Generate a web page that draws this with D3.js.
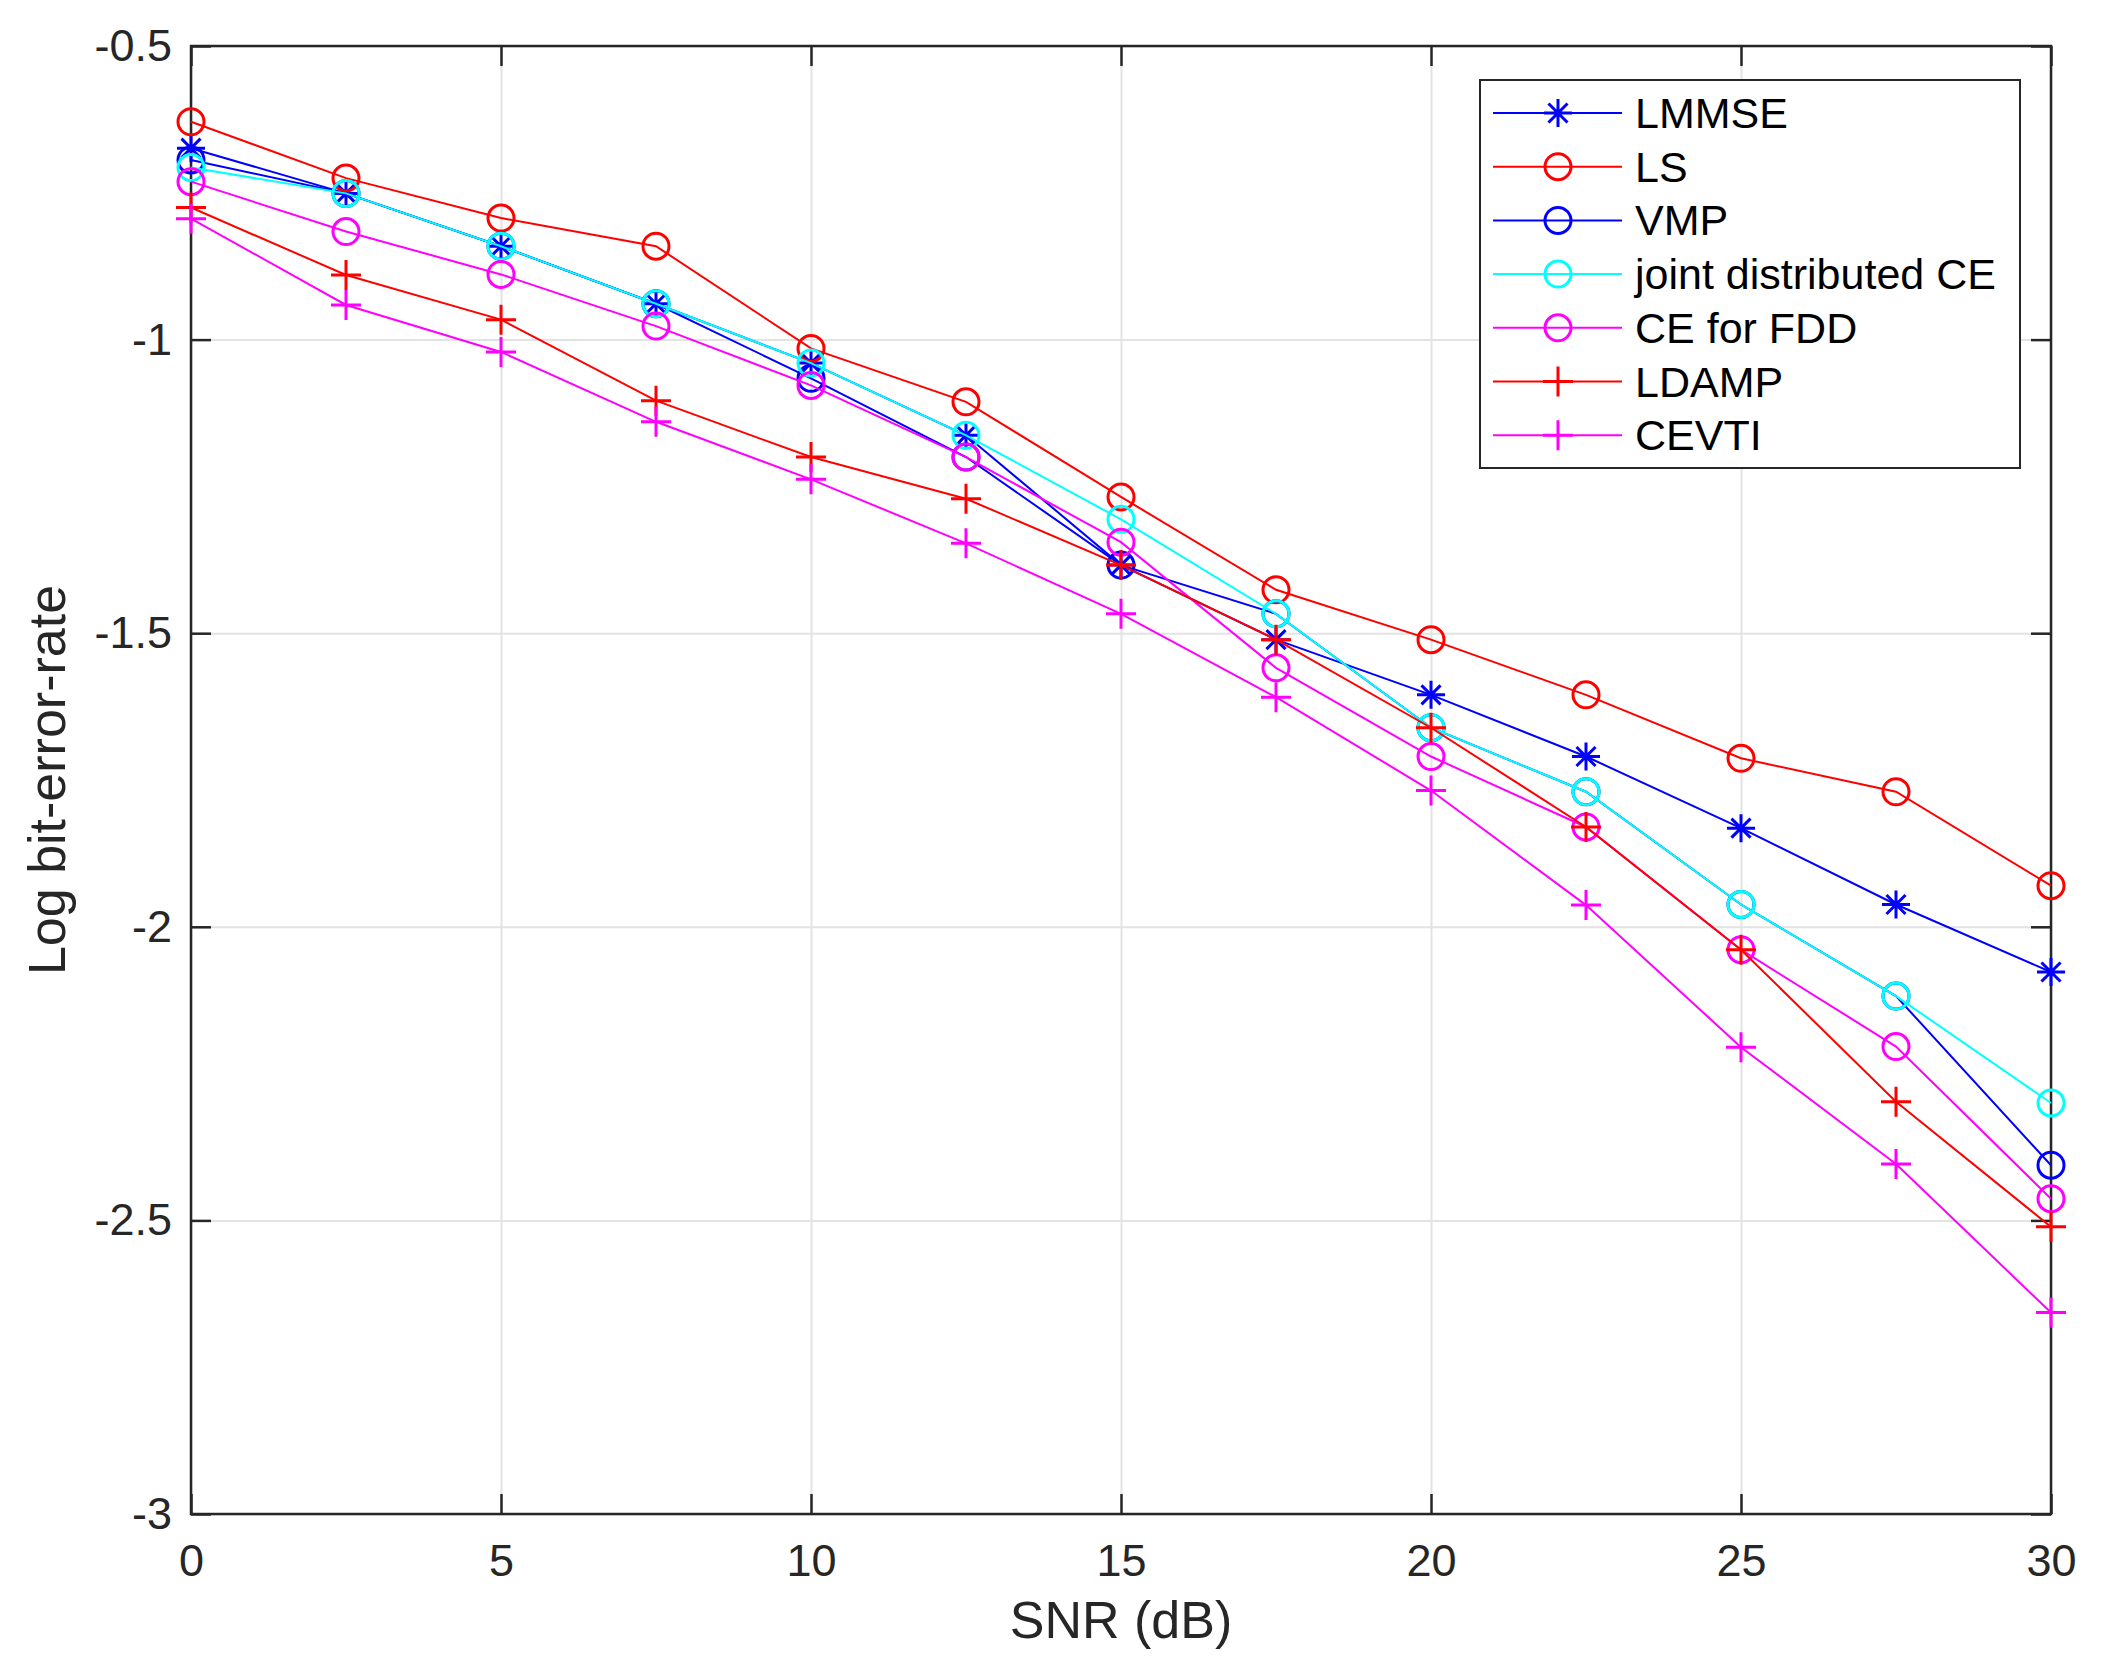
<!DOCTYPE html>
<html>
<head>
<meta charset="utf-8">
<script src="https://cdn.jsdelivr.net/npm/d3@7"></script>
<style>
  body { margin: 0; background: #fff; }
  svg { display: block; font-family: "Liberation Sans", Arial, Helvetica, sans-serif; }
</style>
</head>
<body>
<div id="chart"></div>
<script>
// SNR points (dB)
var snr = [0, 2.5, 5, 7.5, 10, 12.5, 15, 17.5, 20, 22.5, 25, 27.5, 30];

// log bit-error-rate per method
var lmmse  = [-0.674, -0.751, -0.841, -0.939, -1.040, -1.163, -1.384, -1.511, -1.605, -1.710, -1.832, -1.962, -2.077];
var ls     = [-0.629, -0.725, -0.793, -0.841, -1.015, -1.106, -1.268, -1.426, -1.511, -1.605, -1.713, -1.770, -1.930];
var vmp    = [-0.694, -0.751, -0.841, -0.939, -1.066, -1.200, -1.384, -1.467, -1.661, -1.770, -1.962, -2.118, -2.406];
var joint  = [-0.707, -0.751, -0.841, -0.939, -1.040, -1.163, -1.306, -1.467, -1.661, -1.770, -1.962, -2.118, -2.300];
var cefdd  = [-0.731, -0.816, -0.889, -0.977, -1.078, -1.200, -1.345, -1.559, -1.710, -1.830, -2.039, -2.204, -2.463];
var ldamp  = [-0.775, -0.890, -0.966, -1.104, -1.200, -1.271, -1.384, -1.511, -1.661, -1.830, -2.039, -2.298, -2.511];
var cevti  = [-0.794, -0.941, -1.021, -1.140, -1.238, -1.347, -1.467, -1.609, -1.768, -1.963, -2.205, -2.404, -2.657];

var seriesNames = ["LMMSE", "LS", "VMP", "joint distributed CE", "CE for FDD", "LDAMP", "CEVTI"];
var seriesValues = [lmmse, ls, vmp, joint, cefdd, ldamp, cevti];
var seriesColors = ["#0000ff", "#ff0000", "#0000ff", "#00ffff", "#ff00ff", "#ff0000", "#ff00ff"];
var seriesMarkers = ["star", "circle", "circle", "circle", "circle", "plus", "plus"];

var xTicks = [0, 5, 10, 15, 20, 25, 30];
var yTicks = [-3, -2.5, -2, -1.5, -1, -0.5];

var W = 2104, H = 1669;
var margin = {top: 46, right: 53, bottom: 155, left: 191},
    width = W - margin.left - margin.right,
    height = H - margin.top - margin.bottom;

var axisColor = "#262626";

var svg = d3.select("#chart").append("svg")
    .attr("width", W)
    .attr("height", H);

svg.append("rect").attr("width", W).attr("height", H).attr("fill", "#fff");

var g = svg.append("g")
    .attr("transform", "translate(" + margin.left + "," + margin.top + ")");

var x = d3.scaleLinear().domain([0, 30]).range([0, width]);
var y = d3.scaleLinear().domain([-3, -0.5]).range([height, 0]);

// grid
g.append("g")
    .attr("transform", "translate(0," + height + ")")
    .call(d3.axisBottom(x).tickValues(xTicks).tickSize(-height).tickFormat(""))
    .call(a => a.select(".domain").remove())
    .selectAll("line").attr("stroke", "#e3e3e3").attr("stroke-width", 2);
g.append("g")
    .call(d3.axisLeft(y).tickValues(yTicks).tickSize(-width).tickFormat(""))
    .call(a => a.select(".domain").remove())
    .selectAll("line").attr("stroke", "#e3e3e3").attr("stroke-width", 2);

// box and ticks on all four sides
function styleAxis(a) {
    a.select(".domain").remove();
    a.selectAll("line").attr("stroke", axisColor).attr("stroke-width", 2.5);
    a.selectAll("text").attr("fill", axisColor).style("font-size", "45px");
}
g.append("g")
    .attr("transform", "translate(0," + height + ")")
    .call(d3.axisBottom(x).tickValues(xTicks).tickSizeInner(-20).tickSizeOuter(0).tickPadding(30))
    .call(styleAxis);
g.append("g")
    .call(d3.axisTop(x).tickValues(xTicks).tickSizeInner(-20).tickSizeOuter(0).tickFormat(""))
    .call(styleAxis);
g.append("g")
    .call(d3.axisLeft(y).tickValues(yTicks).tickSizeInner(-20).tickSizeOuter(0).tickPadding(19)
        .tickFormat(function(d) { return String(d); }))
    .call(styleAxis);
g.append("g")
    .attr("transform", "translate(" + width + ",0)")
    .call(d3.axisRight(y).tickValues(yTicks).tickSizeInner(-20).tickSizeOuter(0).tickFormat(""))
    .call(styleAxis);
g.append("rect")
    .attr("width", width).attr("height", height)
    .attr("fill", "none").attr("stroke", axisColor).attr("stroke-width", 2.5);

// series lines and markers (on top of the box)
var line = d3.line()
    .x(function(d, i) { return x(snr[i]); })
    .y(function(d) { return y(d); });

function drawMarker(sel, type, color, r) {
    if (type === "circle") {
        sel.append("circle").attr("r", r).attr("fill", "none")
            .attr("stroke", color).attr("stroke-width", 3);
    } else if (type === "plus") {
        var p = r + 2;
        sel.append("path").attr("d", "M" + (-p) + ",0H" + p + "M0," + (-p) + "V" + p)
            .attr("stroke", color).attr("stroke-width", 3).attr("fill", "none");
    } else {
        var s = r + 1, d = s * 0.68;
        sel.append("path")
            .attr("d", "M" + (-s) + ",0H" + s + "M0," + (-s) + "V" + s +
                       "M" + (-d) + "," + (-d) + "L" + d + "," + d +
                       "M" + (-d) + "," + d + "L" + d + "," + (-d))
            .attr("stroke", color).attr("stroke-width", 3).attr("fill", "none");
    }
}

seriesValues.forEach(function(vals, k) {
    var sg = g.append("g");
    sg.append("path")
        .datum(vals)
        .attr("d", line)
        .attr("fill", "none")
        .attr("stroke", seriesColors[k])
        .attr("stroke-width", 2);
    sg.selectAll(".m")
        .data(vals)
        .enter()
        .append("g")
        .attr("transform", function(d, i) { return "translate(" + x(snr[i]) + "," + y(d) + ")"; })
        .each(function() { drawMarker(d3.select(this), seriesMarkers[k], seriesColors[k], 13); });
});

// axis labels
svg.append("text")
    .attr("x", margin.left + width / 2)
    .attr("y", 1620)
    .attr("dy", "0.35em")
    .attr("text-anchor", "middle")
    .attr("fill", axisColor)
    .style("font-size", "52px")
    .text("SNR (dB)");
svg.append("text")
    .attr("transform", "translate(47," + (margin.top + height / 2) + ") rotate(-90)")
    .attr("dy", "0.35em")
    .attr("text-anchor", "middle")
    .attr("fill", axisColor)
    .style("font-size", "52px")
    .text("Log bit-error-rate");

// legend
var legend = svg.append("g");
legend.append("rect")
    .attr("x", 1480).attr("y", 80)
    .attr("width", 540).attr("height", 388)
    .attr("fill", "#fff")
    .attr("stroke", axisColor).attr("stroke-width", 2);
seriesNames.forEach(function(name, k) {
    var row = legend.append("g").attr("transform", "translate(0," + (113 + k * 53.7) + ")");
    row.append("line")
        .attr("x1", 1493).attr("x2", 1622)
        .attr("stroke", seriesColors[k]).attr("stroke-width", 2);
    drawMarker(row.append("g").attr("transform", "translate(1558,0)"), seriesMarkers[k], seriesColors[k], 13);
    row.append("text")
        .attr("x", 1635)
        .attr("dy", "0.35em")
        .attr("fill", "#000")
        .style("font-size", "43px")
        .text(name);
});
</script>
</body>
</html>
